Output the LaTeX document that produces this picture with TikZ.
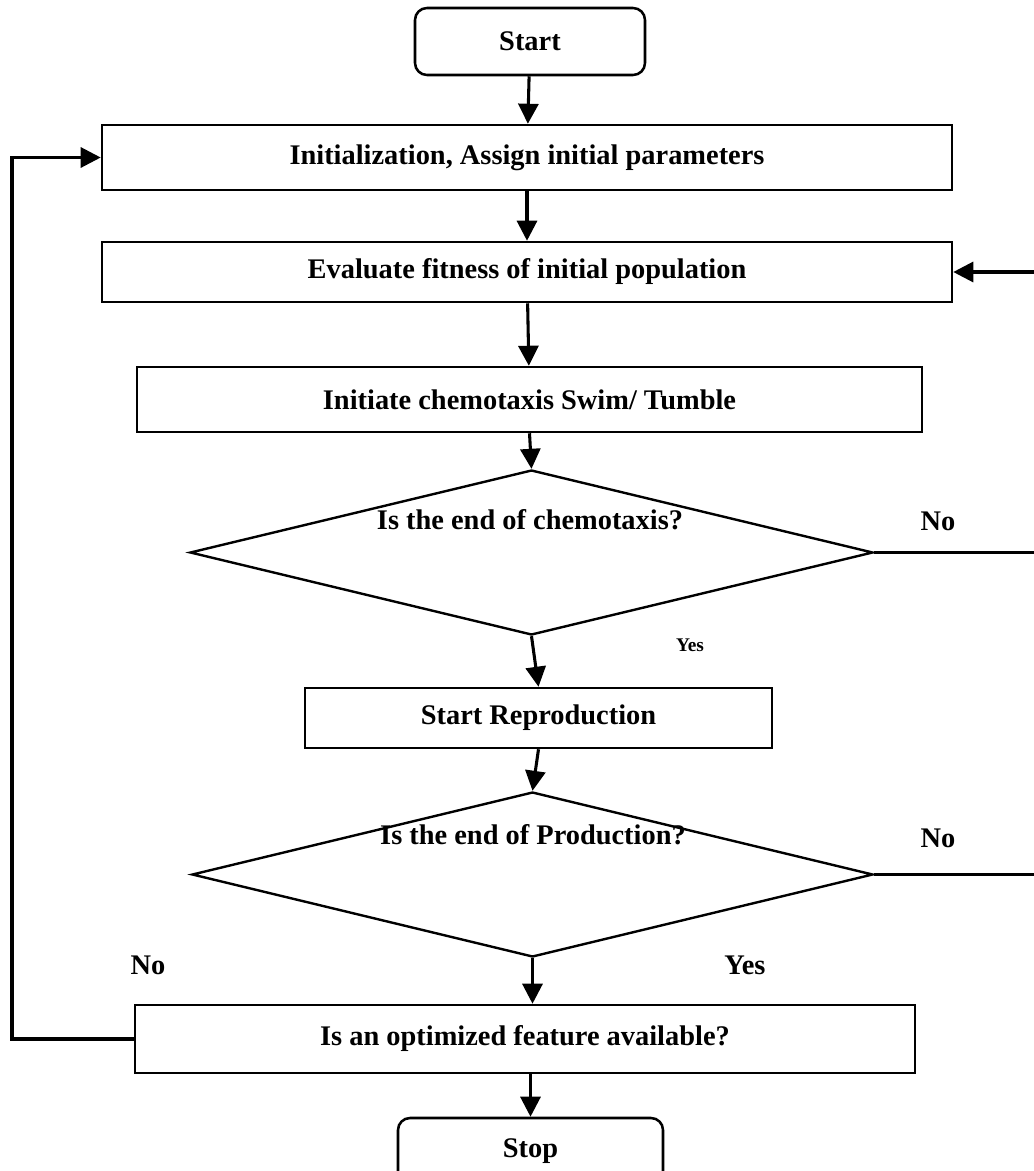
\documentclass[tikz,border=0pt]{standalone}
\usepackage{fontspec}
\setmainfont{Liberation Serif}
\usetikzlibrary{arrows.meta,shapes.geometric}
\begin{document}
\begin{tikzpicture}[x=0.75pt,y=-0.75pt,
  txt/.style={font=\fontsize{21.3}{25}\selectfont\bfseries},
  box/.style={draw,line width=1.9pt,inner sep=0pt,txt},
  term/.style={box,rounded corners=9pt},
  dia/.style={draw,diamond,line width=1.8pt,inner sep=0pt},
  small/.style={font=\fontsize{14.5}{17}\selectfont\bfseries},
  arr/.style={line width=2.3pt,-{Triangle[length=15pt,width=15pt]}},
  ln/.style={line width=2.3pt}]
\useasboundingbox (0,0) rectangle (1034,1171);
\fill[white] (0,0) rectangle (1034,1171);
\clip (0,0) rectangle (1034,1171);

\node[term,minimum width=172.5pt,minimum height=50.25pt] (start) at (530,41.5) {Start};
\node[box,minimum width=637.5pt,minimum height=48.75pt] (init) at (527,157.5) {Initialization, Assign initial parameters};
\node[box,minimum width=637.5pt,minimum height=45pt] (eval) at (527,272) {Evaluate fitness of initial population};
\node[box,minimum width=588.75pt,minimum height=48.75pt] (chemo) at (529.5,399.5) {Initiate chemotaxis Swim/ Tumble};
\node[dia,minimum width=512.25pt,minimum height=123.75pt] (d1) at (531.5,552.5) {};
\node[txt] (d1t) at (530,520) {Is the end of chemotaxis?};
\node[box,minimum width=350.25pt,minimum height=45pt] (repro) at (538.5,718) {Start Reproduction};
\node[dia,minimum width=510.75pt,minimum height=123.75pt] (d2) at (532.5,874.5) {};
\node[txt] (d2t) at (533,835) {Is the end of Production?};
\node[box,minimum width=585pt,minimum height=51pt] (opt) at (525,1039) {Is an optimized feature available?};
\node[term,minimum width=198.75pt,minimum height=50.25pt] (stop) at (530.5,1151.5) {Stop};

\node[txt] (no1) at (938,521) {No};
\node[small] (yes1) at (690,645) {Yes};
\node[txt] (no2) at (938,838) {No};
\node[txt] (no3) at (148,965) {No};
\node[txt] (yes2) at (745,965) {Yes};

\coordinate (r1) at (1045,552.5);
\coordinate (r2) at (1045,874.5);
\coordinate (r0) at (1045,272);
\coordinate (l1) at (12,1039);
\coordinate (l0) at (12,157.5);

\draw[arr] (start) -- (init);
\draw[arr] (init) -- (eval);
\draw[arr] (eval) -- (chemo);
\draw[arr] (chemo.south) -- (d1.north);
\draw[arr] (d1.south) -- (repro.north);
\draw[arr] (repro.south) -- (d2.north);
\draw[arr] (d2.south) -- (d2.south |- opt.north);
\draw[arr] (opt.south -| stop.north) -- (stop.north);

\draw[ln] (d1.east) -- (r1);
\draw[ln] (d2.east) -- (r2);
\draw[arr] (r2) -- (r0) -- (eval.east);
\draw[arr] (opt.west) -- (l1) -- (l0) -- (init.west);
\end{tikzpicture}
\end{document}
